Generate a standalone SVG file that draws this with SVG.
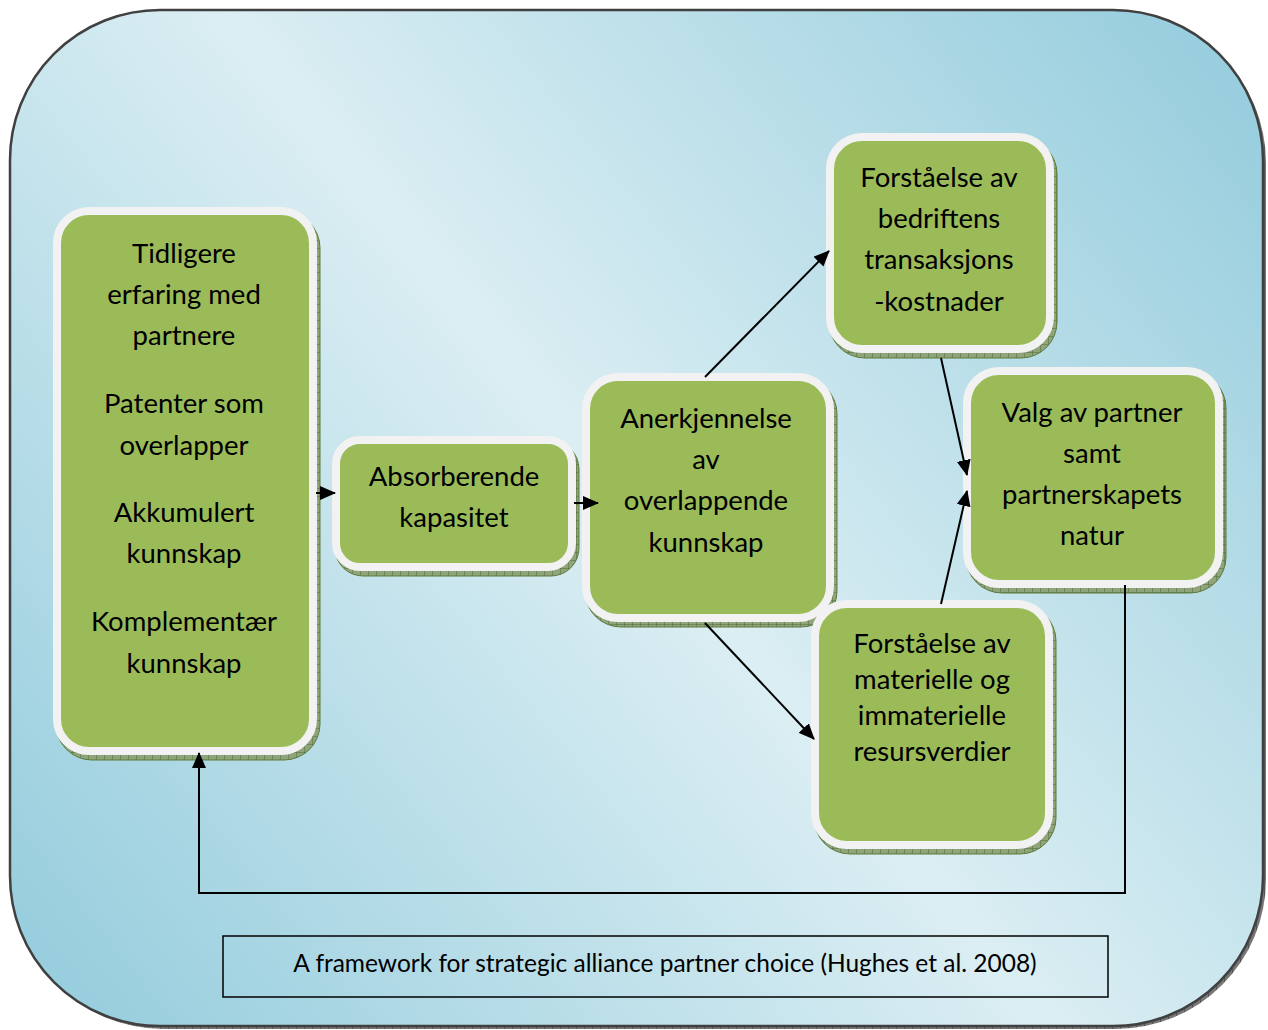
<svg xmlns="http://www.w3.org/2000/svg" width="1268" height="1030" viewBox="0 0 1268 1030">
<defs>
<linearGradient id="bg" gradientUnits="userSpaceOnUse" x1="1263" y1="10" x2="10" y2="1027">
<stop offset="0" stop-color="#92cbdc"/>
<stop offset="0.5" stop-color="#dbeef3"/>
<stop offset="1" stop-color="#92cbdc"/>
</linearGradient>
<pattern id="hatch" patternUnits="userSpaceOnUse" width="8" height="8">
<rect width="8" height="8" fill="#8fa47a"/>
<path d="M0 0V8M0 0H8" stroke="#4f6a35" stroke-width="1"/>
</pattern>
<pattern id="hatchg" patternUnits="userSpaceOnUse" width="8" height="8">
<rect width="8" height="8" fill="#777"/>
<path d="M0 0V8" stroke="#333" stroke-width="1"/>
</pattern>
<marker id="ah" viewBox="0 0 16 14" refX="15" refY="7" markerWidth="16" markerHeight="14" markerUnits="userSpaceOnUse" orient="auto">
<path d="M0 0L16 7L0 14Z" fill="#000"/>
</marker>
</defs>
<style>
.shadow{fill:url(#hatch);stroke:#5d7a3a;stroke-width:1}
.box{fill:#9bbb59;stroke:#f2f2f2;stroke-width:8}
.t{font-family:Lato,"Open Sans","Liberation Sans",sans-serif;font-size:27.5px;fill:#000;text-anchor:middle}
.c{fill:none;stroke:#000;stroke-width:2}
</style>
<rect x="13" y="13" width="1253" height="1016" rx="150" fill="url(#hatchg)"/>
<rect x="10" y="10" width="1253" height="1016" rx="150" fill="url(#bg)" stroke="#404040" stroke-width="2.5"/>

<g id="n1">
<rect class="shadow" x="56" y="212" width="264" height="548" rx="36"/>
<rect class="box" x="57" y="211" width="256" height="540" rx="32"/>
<text class="t" x="184" y="263">Tidligere</text>
<text class="t" x="184" y="304">erfaring med</text>
<text class="t" x="184" y="345">partnere</text>
<text class="t" x="184" y="413">Patenter som</text>
<text class="t" x="184" y="455">overlapper</text>
<text class="t" x="184" y="522">Akkumulert</text>
<text class="t" x="184" y="563">kunnskap</text>
<text class="t" x="184" y="631">Komplementær</text>
<text class="t" x="184" y="673">kunnskap</text>
</g>

<g id="n2">
<rect class="shadow" x="335" y="441" width="244" height="135" rx="28"/>
<rect class="box" x="336" y="440" width="236" height="127" rx="24"/>
<text class="t" x="454" y="486">Absorberende</text>
<text class="t" x="454" y="527">kapasitet</text>
</g>

<g id="n3">
<rect class="shadow" x="585" y="378" width="252" height="249" rx="36"/>
<rect class="box" x="586" y="377" width="244" height="241" rx="32"/>
<text class="t" x="706" y="428">Anerkjennelse</text>
<text class="t" x="706" y="469">av</text>
<text class="t" x="706" y="510">overlappende</text>
<text class="t" x="706" y="552">kunnskap</text>
</g>

<g id="n4">
<rect class="shadow" x="829" y="138" width="228" height="220" rx="36"/>
<rect class="box" x="830" y="137" width="220" height="212" rx="32"/>
<text class="t" x="939" y="187">Forståelse av</text>
<text class="t" x="939" y="228">bedriftens</text>
<text class="t" x="939" y="269">transaksjons</text>
<text class="t" x="939" y="311">-kostnader</text>
</g>

<g id="n5">
<rect class="shadow" x="966" y="372" width="260" height="221" rx="36"/>
<rect class="box" x="967" y="371" width="252" height="213" rx="32"/>
<text class="t" x="1092" y="422">Valg av partner</text>
<text class="t" x="1092" y="463">samt</text>
<text class="t" x="1092" y="504">partnerskapets</text>
<text class="t" x="1092" y="545">natur</text>
</g>

<g id="n6">
<rect class="shadow" x="814" y="605" width="242" height="249" rx="36"/>
<rect class="box" x="815" y="604" width="234" height="241" rx="32"/>
<text class="t" x="932" y="653">Forståelse av</text>
<text class="t" x="932" y="689">materielle og</text>
<text class="t" x="932" y="725">immaterielle</text>
<text class="t" x="932" y="761">resursverdier</text>
</g>

<g id="connectors">
<line class="c" x1="316" y1="493" x2="335" y2="493" marker-end="url(#ah)"/>
<line class="c" x1="574" y1="503" x2="598" y2="503" marker-end="url(#ah)"/>
<line class="c" x1="705" y1="377" x2="829" y2="251" marker-end="url(#ah)"/>
<line class="c" x1="705" y1="623" x2="814" y2="739" marker-end="url(#ah)"/>
<line class="c" x1="941" y1="358" x2="967" y2="475" marker-end="url(#ah)"/>
<line class="c" x1="941" y1="604" x2="967" y2="491" marker-end="url(#ah)"/>
<polyline class="c" points="1125,585 1125,893 199,893 199,753" marker-end="url(#ah)"/>
</g>

<g id="caption">
<rect x="223" y="936" width="885" height="61" fill="none" stroke="#000" stroke-width="1.5"/>
<text x="665" y="972" style="font-family:Lato,'Open Sans','Liberation Sans',sans-serif;font-size:24.5px;text-anchor:middle">A framework for strategic alliance partner choice (Hughes et al. 2008)</text>
</g>
</svg>
